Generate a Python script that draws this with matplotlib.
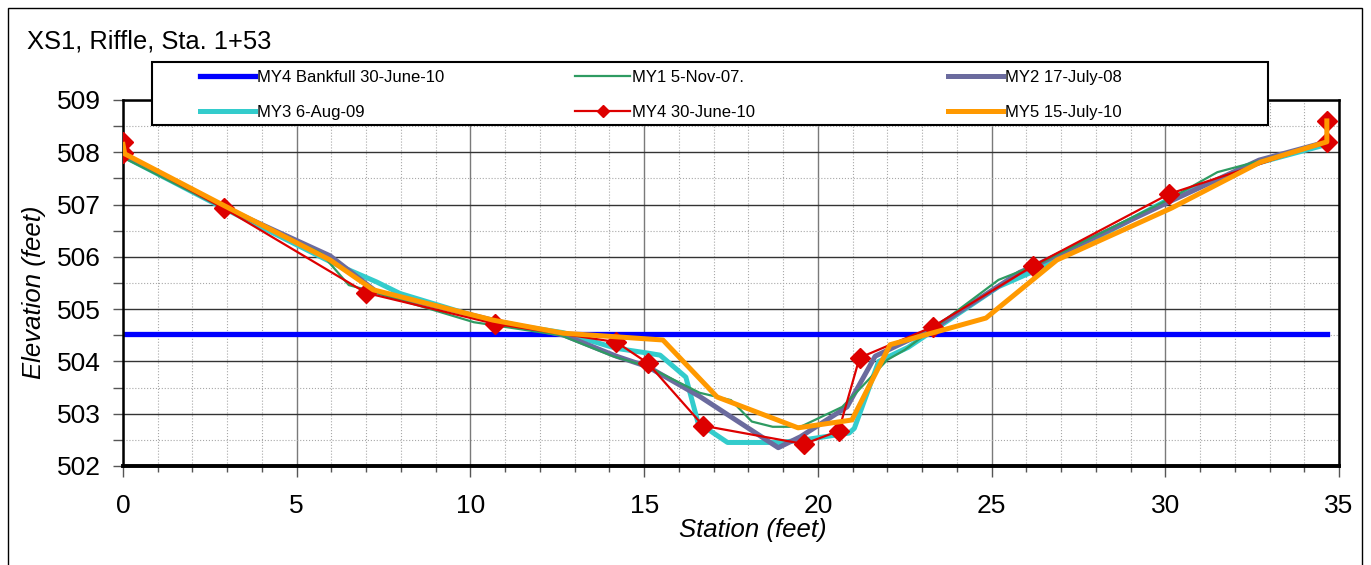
import matplotlib
matplotlib.use("Agg")
import matplotlib.pyplot as plt
from matplotlib.patches import Rectangle
from matplotlib.ticker import MultipleLocator

plt.rcParams['font.family'] = ['Liberation Sans', 'DejaVu Sans']

# station (feet) / elevation (feet)
bank_x = [0, 34.65]
bank_y = [504.52, 504.52]

my1_x = [0, 2.9, 5.7, 6.5, 7.0, 10.1, 12.6, 14.1, 15.1, 16.6, 17.5, 18.1, 18.7, 19.5,
         20.7, 21.1, 22.0, 22.5, 25.2, 26.3, 30.1, 31.5, 32.8, 34.65]
my1_y = [507.9, 506.93, 506.07, 505.46, 505.37, 504.75, 504.5, 504.1, 503.9, 503.4, 503.26,
         502.85, 502.75, 502.75, 503.13, 503.4, 504.03, 504.22, 505.56, 505.85, 507.1,
         507.62, 507.85, 508.2]

my2_x = [0, 2.9, 5.96, 7.3, 10.7, 12.7, 14.2, 15.1, 16.6, 18.86, 19.5, 20.84, 21.65,
         23.4, 25.8, 26.3, 30.1, 32.7, 34.65]
my2_y = [507.95, 506.95, 506.02, 505.33, 504.78, 504.5, 504.1, 503.9, 503.33, 502.35,
         502.56, 503.13, 504.1, 504.66, 505.7, 505.85, 507.05, 507.85, 508.2]

my3_x = [0, 2.9, 6.05, 7.3, 7.97, 10.7, 12.67, 14.2, 15.1, 15.46, 16.2, 16.55, 17.4,
         18.9, 19.6, 20.9, 21.05, 21.75, 22.6, 25.2, 26.3, 30.1, 32.7, 34.65]
my3_y = [507.93, 506.93, 505.88, 505.52, 505.3, 504.75, 504.55, 504.25, 504.16, 504.12,
         503.7, 502.83, 502.45, 502.45, 502.5, 502.63, 502.72, 504.0, 504.27, 505.43,
         505.75, 507.1, 507.8, 508.15]

my4_x = [0, 0, 2.9, 7.0, 10.7, 14.2, 15.1, 16.7, 19.6, 20.6, 21.2, 23.3, 26.2, 30.1,
         34.65, 34.65]
my4_y = [508.2, 507.98, 506.93, 505.31, 504.72, 504.37, 503.97, 502.77, 502.42, 502.67,
         504.07, 504.66, 505.83, 507.2, 508.2, 508.6]

my5_x = [0, 0.05, 2.94, 5.96, 7.2, 10.65, 12.67, 15.54, 17.1, 19.43, 20.98, 22.08, 24.84,
         26.88, 30.17, 32.73, 34.65, 34.65]
my5_y = [508.15, 507.97, 506.97, 505.94, 505.37, 504.79, 504.54, 504.41, 503.32, 502.73,
         502.88, 504.32, 504.83, 505.94, 506.93, 507.81, 508.2, 508.6]

W, H = 1371, 565
fig = plt.figure(figsize=(W / 100, H / 100), dpi=100)
ax = fig.add_axes([123 / W, 1 - 466 / H, 1216 / W, 366 / H])

# outer chart border
fig.patches.append(Rectangle((8 / W, -0.05), 1354 / W, 1.05 - 8 / H, transform=fig.transFigure,
                             fill=False, ec='black', lw=1, zorder=0))

l_bank, = ax.plot(bank_x, bank_y, color='#0000FF', lw=3.8, label='MY4 Bankfull 30-June-10', zorder=2)
l_my3, = ax.plot(my3_x, my3_y, color='#33CCCC', lw=3.6, label='MY3 6-Aug-09', zorder=3)
l_my2, = ax.plot(my2_x, my2_y, color='#6B6B9E', lw=3.6, label='MY2 17-July-08', zorder=3)
l_my1, = ax.plot(my1_x, my1_y, color='#2E9B62', lw=1.6, label='MY1 5-Nov-07.', zorder=4)
l_my4, = ax.plot(my4_x, my4_y, color='#DD0000', lw=1.6, marker='D', markersize=10,
                 label='MY4 30-June-10', zorder=5)
l_my5, = ax.plot(my5_x, my5_y, color='#FF9900', lw=3.6, label='MY5 15-July-10', zorder=6)

ax.set_xlim(0, 35)
ax.set_ylim(502, 509)
ax.xaxis.set_major_locator(MultipleLocator(5))
ax.xaxis.set_minor_locator(MultipleLocator(1))
ax.yaxis.set_major_locator(MultipleLocator(1))
ax.yaxis.set_minor_locator(MultipleLocator(0.5))

ax.xaxis.grid(True, which='major', color='#7a7a7a', lw=1)
ax.yaxis.grid(True, which='major', color='#333333', lw=1)
ax.grid(True, which='minor', color='#a8a8a8', lw=0.8, ls=':')
ax.set_axisbelow(True)

ax.tick_params(axis='x', which='major', length=8, width=1, pad=12, labelsize=19, color='#555555')
ax.tick_params(axis='x', which='minor', length=4, width=1, color='#555555')
ax.tick_params(axis='y', which='both', length=7, width=1, pad=9, labelsize=19, color='#555555')

for s in ['left', 'right', 'top']:
    ax.spines[s].set_linewidth(1.8)
ax.spines['bottom'].set_linewidth(2.8)

ax.set_xlabel('Station (feet)', fontsize=18.5, style='italic')
ax.xaxis.set_label_coords(0.518, -0.143)
ax.xaxis.label.set_va('top')
ax.set_ylabel('Elevation (feet)', fontsize=18.5, style='italic')
ax.yaxis.set_label_coords(-0.063, 0.475)

fig.text(27 / W, 1 - 48 / H, 'XS1, Riffle, Sta. 1+53', fontsize=18.4, va='baseline', ha='left')

# legend box with three equal-width columns
fig.patches.append(Rectangle((152 / W, 1 - 125 / H), 1116 / W, 63 / H, transform=fig.transFigure,
                             fc='white', ec='black', lw=1.5, zorder=4))
columns = [(l_bank, l_my3), (l_my1, l_my4), (l_my2, l_my5)]
col_x = [200, 575, 948]
for hs, cx in zip(columns, col_x):
    leg = fig.legend(hs, [h.get_label() for h in hs], loc='upper left',
                     bbox_to_anchor=(cx / W, 1 - 70 / H), frameon=False, fontsize=12,
                     borderpad=0, borderaxespad=0, handlelength=3.3, handletextpad=0.1,
                     labelspacing=1.2, markerscale=0.6)
    leg.set_zorder(6)

fig.savefig('out.png', dpi=100)
